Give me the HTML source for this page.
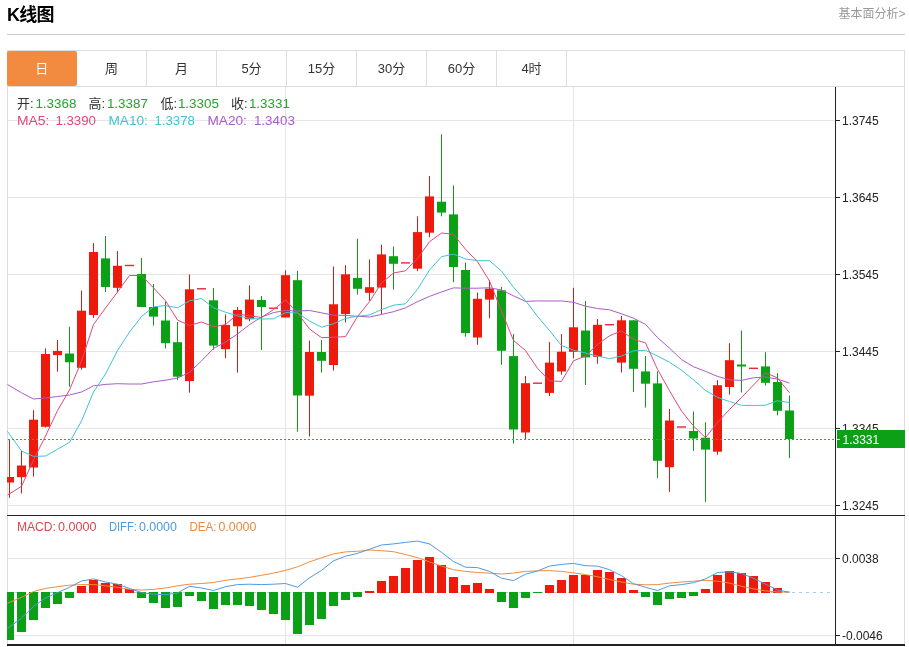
<!DOCTYPE html>
<html lang="zh"><head><meta charset="utf-8"><title>K线图</title>
<style>
html,body{margin:0;padding:0;background:#fff;}
body{width:909px;height:647px;position:relative;overflow:hidden;font-family:"Liberation Sans","Noto Sans CJK SC",sans-serif;color:#333;}
.title{position:absolute;left:7px;top:2.5px;font-size:18px;letter-spacing:-0.8px;font-weight:bold;color:#000;line-height:24px;white-space:nowrap;}
.more{position:absolute;right:3.5px;top:5.5px;font-size:12px;color:#999;line-height:17px;white-space:nowrap;}
.hr{position:absolute;left:7px;top:34px;width:898px;height:1px;background:#ccc;}
.box{position:absolute;left:7px;top:50px;width:896px;height:596px;border:1px solid #ddd;border-bottom:none;box-sizing:content-box;}
.tabs{position:absolute;left:7px;top:51px;height:35px;width:898px;border-bottom:1px solid #ddd;}
.tab{position:absolute;top:0;height:35px;width:69px;border-right:1px solid #ddd;text-align:center;line-height:35px;font-size:13px;color:#333;}
.tab.on{background:#f28a3f;border-radius:2px;color:#fff;width:69.5px;border-right:none;}
svg{position:absolute;left:0;top:0;}
svg text{font-family:"Liberation Sans","Noto Sans CJK SC",sans-serif;}
</style></head><body>
<div class="title">K线图</div>
<div class="more">基本面分析&gt;</div>
<div class="hr"></div>
<div class="box"></div>
<div class="tabs">
<div class="tab on" style="left:0px">日</div>
<div class="tab" style="left:70px">周</div>
<div class="tab" style="left:140px">月</div>
<div class="tab" style="left:210px">5分</div>
<div class="tab" style="left:280px">15分</div>
<div class="tab" style="left:350px">30分</div>
<div class="tab" style="left:420px">60分</div>
<div class="tab" style="left:490px">4时</div>
</div>
<svg width="909" height="647" viewBox="0 0 909 647">
<g stroke="#e6e6e6" stroke-width="1" shape-rendering="crispEdges">
<line x1="8" x2="835" y1="120.5" y2="120.5"/>
<line x1="8" x2="835" y1="197.5" y2="197.5"/>
<line x1="8" x2="835" y1="274.5" y2="274.5"/>
<line x1="8" x2="835" y1="351.5" y2="351.5"/>
<line x1="8" x2="835" y1="428.5" y2="428.5"/>
<line x1="8" x2="835" y1="505.5" y2="505.5"/>
<line x1="8" x2="835" y1="558.5" y2="558.5"/>
<line x1="8" x2="835" y1="635.5" y2="635.5"/>
</g>
<g stroke="#dfe4ea" stroke-width="1" shape-rendering="crispEdges">
<line x1="285.5" x2="285.5" y1="87" y2="645"/>
<line x1="573.5" x2="573.5" y1="87" y2="645"/>
</g>
<line x1="8" x2="834" y1="592.5" y2="592.5" stroke="#a8cdea" stroke-width="1" stroke-dasharray="3,4"/>
<defs><clipPath id="cp"><rect x="7" y="87" width="828" height="558"/></clipPath></defs>
<g clip-path="url(#cp)">
<g shape-rendering="crispEdges">
<rect x="5" y="592" width="9" height="47.7" fill="#0ca016"/>
<rect x="17" y="592" width="9" height="40.2" fill="#0ca016"/>
<rect x="29" y="592" width="9" height="27.5" fill="#0ca016"/>
<rect x="41" y="592" width="9" height="15.9" fill="#0ca016"/>
<rect x="53" y="592" width="9" height="11.9" fill="#0ca016"/>
<rect x="65" y="592" width="9" height="5.9" fill="#0ca016"/>
<rect x="77" y="585.8" width="9" height="6.7" fill="#ee1a0c"/>
<rect x="89" y="579.5" width="9" height="13" fill="#ee1a0c"/>
<rect x="101" y="583.1" width="9" height="9.4" fill="#ee1a0c"/>
<rect x="113" y="583.5" width="9" height="9" fill="#ee1a0c"/>
<rect x="125" y="589.4" width="9" height="3.1" fill="#ee1a0c"/>
<rect x="137" y="592" width="9" height="5.9" fill="#0ca016"/>
<rect x="149" y="592" width="9" height="10.8" fill="#0ca016"/>
<rect x="161" y="592" width="9" height="15.5" fill="#0ca016"/>
<rect x="173" y="592" width="9" height="14.7" fill="#0ca016"/>
<rect x="185" y="592" width="9" height="4.4" fill="#0ca016"/>
<rect x="197" y="592" width="9" height="9.1" fill="#0ca016"/>
<rect x="209" y="592" width="9" height="16.5" fill="#0ca016"/>
<rect x="221" y="592" width="9" height="13.3" fill="#0ca016"/>
<rect x="233" y="592" width="9" height="12.7" fill="#0ca016"/>
<rect x="245" y="592" width="9" height="13.8" fill="#0ca016"/>
<rect x="257" y="592" width="9" height="18.2" fill="#0ca016"/>
<rect x="269" y="592" width="9" height="22.4" fill="#0ca016"/>
<rect x="281" y="592" width="9" height="27.7" fill="#0ca016"/>
<rect x="293" y="592" width="9" height="41.9" fill="#0ca016"/>
<rect x="305" y="592" width="9" height="32.8" fill="#0ca016"/>
<rect x="317" y="592" width="9" height="26.7" fill="#0ca016"/>
<rect x="329" y="592" width="9" height="14.4" fill="#0ca016"/>
<rect x="341" y="592" width="9" height="7.6" fill="#0ca016"/>
<rect x="353" y="592" width="9" height="4.9" fill="#0ca016"/>
<rect x="365" y="590.5" width="9" height="2" fill="#ee1a0c"/>
<rect x="377" y="581" width="9" height="11.5" fill="#ee1a0c"/>
<rect x="389" y="576.1" width="9" height="16.4" fill="#ee1a0c"/>
<rect x="401" y="568.3" width="9" height="24.2" fill="#ee1a0c"/>
<rect x="413" y="559.8" width="9" height="32.7" fill="#ee1a0c"/>
<rect x="425" y="557" width="9" height="35.5" fill="#ee1a0c"/>
<rect x="437" y="564.7" width="9" height="27.8" fill="#ee1a0c"/>
<rect x="449" y="576.7" width="9" height="15.8" fill="#ee1a0c"/>
<rect x="461" y="584.6" width="9" height="7.9" fill="#ee1a0c"/>
<rect x="473" y="582.5" width="9" height="10" fill="#ee1a0c"/>
<rect x="485" y="588.8" width="9" height="3.7" fill="#ee1a0c"/>
<rect x="497" y="592" width="9" height="9.7" fill="#0ca016"/>
<rect x="509" y="592" width="9" height="15.9" fill="#0ca016"/>
<rect x="521" y="592" width="9" height="5.5" fill="#0ca016"/>
<rect x="533" y="592" width="9" height="1" fill="#0ca016"/>
<rect x="545" y="585.2" width="9" height="7.3" fill="#ee1a0c"/>
<rect x="557" y="579.5" width="9" height="13" fill="#ee1a0c"/>
<rect x="569" y="574.6" width="9" height="17.9" fill="#ee1a0c"/>
<rect x="581" y="574.6" width="9" height="17.9" fill="#ee1a0c"/>
<rect x="593" y="570" width="9" height="22.5" fill="#ee1a0c"/>
<rect x="605" y="571.9" width="9" height="20.6" fill="#ee1a0c"/>
<rect x="617" y="577.8" width="9" height="14.7" fill="#ee1a0c"/>
<rect x="629" y="589.9" width="9" height="2.6" fill="#ee1a0c"/>
<rect x="641" y="592" width="9" height="4.9" fill="#0ca016"/>
<rect x="653" y="592" width="9" height="13.3" fill="#0ca016"/>
<rect x="665" y="592" width="9" height="7" fill="#0ca016"/>
<rect x="677" y="592" width="9" height="6.3" fill="#0ca016"/>
<rect x="689" y="592" width="9" height="3.8" fill="#0ca016"/>
<rect x="701" y="588.8" width="9" height="3.7" fill="#ee1a0c"/>
<rect x="713" y="575.3" width="9" height="17.2" fill="#ee1a0c"/>
<rect x="725" y="571.4" width="9" height="21.1" fill="#ee1a0c"/>
<rect x="737" y="572.9" width="9" height="19.6" fill="#ee1a0c"/>
<rect x="749" y="576.1" width="9" height="16.4" fill="#ee1a0c"/>
<rect x="761" y="581.6" width="9" height="10.9" fill="#ee1a0c"/>
<rect x="773" y="588.4" width="9" height="4.1" fill="#ee1a0c"/>
</g>
<g>
<line x1="9.5" x2="9.5" y1="439" y2="497.8" stroke="#d41c10" stroke-width="1"/>
<rect x="5" y="477" width="9" height="5.5" fill="#ee1a0c"/>
<line x1="21.5" x2="21.5" y1="451" y2="493.4" stroke="#d41c10" stroke-width="1"/>
<rect x="17" y="465.5" width="9" height="11.7" fill="#ee1a0c"/>
<line x1="33.5" x2="33.5" y1="410.2" y2="476.6" stroke="#d41c10" stroke-width="1"/>
<rect x="29" y="419.7" width="9" height="47.8" fill="#ee1a0c"/>
<line x1="45.5" x2="45.5" y1="348.4" y2="427.5" stroke="#d41c10" stroke-width="1"/>
<rect x="41" y="354" width="9" height="72.8" fill="#ee1a0c"/>
<line x1="57.5" x2="57.5" y1="340" y2="371.7" stroke="#d41c10" stroke-width="1"/>
<rect x="53" y="350.9" width="9" height="4.2" fill="#ee1a0c"/>
<line x1="69.5" x2="69.5" y1="326.7" y2="386.7" stroke="#109a1a" stroke-width="1"/>
<rect x="65" y="353.5" width="9" height="8.8" fill="#0ca016"/>
<line x1="81.5" x2="81.5" y1="290.5" y2="369.6" stroke="#d41c10" stroke-width="1"/>
<rect x="77" y="310.7" width="9" height="57.1" fill="#ee1a0c"/>
<line x1="93.5" x2="93.5" y1="243" y2="318" stroke="#d41c10" stroke-width="1"/>
<rect x="89" y="252" width="9" height="63" fill="#ee1a0c"/>
<line x1="105.5" x2="105.5" y1="236" y2="292" stroke="#109a1a" stroke-width="1"/>
<rect x="101" y="258.4" width="9" height="28.6" fill="#0ca016"/>
<line x1="117.5" x2="117.5" y1="251" y2="292.6" stroke="#d41c10" stroke-width="1"/>
<rect x="113" y="265.8" width="9" height="22" fill="#ee1a0c"/>
<rect x="125" y="264.8" width="9" height="1.4" fill="#e0283a"/>
<line x1="141.5" x2="141.5" y1="258" y2="307" stroke="#109a1a" stroke-width="1"/>
<rect x="137" y="274" width="9" height="33" fill="#0ca016"/>
<line x1="153.5" x2="153.5" y1="284" y2="325.6" stroke="#109a1a" stroke-width="1"/>
<rect x="149" y="307" width="9" height="9.6" fill="#0ca016"/>
<line x1="165.5" x2="165.5" y1="301.7" y2="348.4" stroke="#109a1a" stroke-width="1"/>
<rect x="161" y="320.5" width="9" height="22.7" fill="#0ca016"/>
<line x1="177.5" x2="177.5" y1="322" y2="380.2" stroke="#109a1a" stroke-width="1"/>
<rect x="173" y="342.2" width="9" height="34.5" fill="#0ca016"/>
<line x1="189.5" x2="189.5" y1="274.4" y2="392.6" stroke="#d41c10" stroke-width="1"/>
<rect x="185" y="289.3" width="9" height="91.8" fill="#ee1a0c"/>
<rect x="197" y="288.1" width="9" height="1.4" fill="#e0283a"/>
<line x1="213.5" x2="213.5" y1="288" y2="349.8" stroke="#109a1a" stroke-width="1"/>
<rect x="209" y="300.3" width="9" height="45.3" fill="#0ca016"/>
<line x1="225.5" x2="225.5" y1="314.4" y2="358.2" stroke="#d41c10" stroke-width="1"/>
<rect x="221" y="325" width="9" height="24.2" fill="#ee1a0c"/>
<line x1="237.5" x2="237.5" y1="307" y2="372.6" stroke="#d41c10" stroke-width="1"/>
<rect x="233" y="310" width="9" height="16.3" fill="#ee1a0c"/>
<line x1="249.5" x2="249.5" y1="285.3" y2="321.4" stroke="#d41c10" stroke-width="1"/>
<rect x="245" y="299.6" width="9" height="19.7" fill="#ee1a0c"/>
<line x1="261.5" x2="261.5" y1="296" y2="350" stroke="#109a1a" stroke-width="1"/>
<rect x="257" y="300" width="9" height="7" fill="#0ca016"/>
<rect x="269" y="307.5" width="9" height="1.4" fill="#e0283a"/>
<line x1="285.5" x2="285.5" y1="270.3" y2="317.5" stroke="#d41c10" stroke-width="1"/>
<rect x="281" y="275.2" width="9" height="42.3" fill="#ee1a0c"/>
<line x1="297.5" x2="297.5" y1="270.8" y2="431.7" stroke="#109a1a" stroke-width="1"/>
<rect x="293" y="280.2" width="9" height="115.3" fill="#0ca016"/>
<line x1="309.5" x2="309.5" y1="340.5" y2="436.5" stroke="#d41c10" stroke-width="1"/>
<rect x="305" y="352" width="9" height="43.7" fill="#ee1a0c"/>
<line x1="321.5" x2="321.5" y1="340" y2="372.6" stroke="#109a1a" stroke-width="1"/>
<rect x="317" y="352" width="9" height="8.8" fill="#0ca016"/>
<line x1="333.5" x2="333.5" y1="266.4" y2="370.5" stroke="#d41c10" stroke-width="1"/>
<rect x="329" y="304.3" width="9" height="60.7" fill="#ee1a0c"/>
<line x1="345.5" x2="345.5" y1="265.2" y2="322.4" stroke="#d41c10" stroke-width="1"/>
<rect x="341" y="274.3" width="9" height="39.7" fill="#ee1a0c"/>
<line x1="357.5" x2="357.5" y1="238.7" y2="294.6" stroke="#109a1a" stroke-width="1"/>
<rect x="353" y="277.9" width="9" height="10.9" fill="#0ca016"/>
<line x1="369.5" x2="369.5" y1="259.4" y2="300.8" stroke="#d41c10" stroke-width="1"/>
<rect x="365" y="287.2" width="9" height="5.6" fill="#ee1a0c"/>
<line x1="381.5" x2="381.5" y1="244.7" y2="314" stroke="#d41c10" stroke-width="1"/>
<rect x="377" y="254.4" width="9" height="33.2" fill="#ee1a0c"/>
<line x1="393.5" x2="393.5" y1="246.5" y2="289.7" stroke="#109a1a" stroke-width="1"/>
<rect x="389" y="256.2" width="9" height="7.6" fill="#0ca016"/>
<rect x="401" y="262.2" width="9" height="1.4" fill="#e0283a"/>
<line x1="417.5" x2="417.5" y1="216.3" y2="271.2" stroke="#d41c10" stroke-width="1"/>
<rect x="413" y="232.1" width="9" height="36.6" fill="#ee1a0c"/>
<line x1="429.5" x2="429.5" y1="176" y2="237.2" stroke="#d41c10" stroke-width="1"/>
<rect x="425" y="196.4" width="9" height="36.3" fill="#ee1a0c"/>
<line x1="441.5" x2="441.5" y1="134.2" y2="216.3" stroke="#109a1a" stroke-width="1"/>
<rect x="437" y="201.7" width="9" height="10.9" fill="#0ca016"/>
<line x1="453.5" x2="453.5" y1="185.4" y2="282.2" stroke="#109a1a" stroke-width="1"/>
<rect x="449" y="214.4" width="9" height="52.6" fill="#0ca016"/>
<line x1="465.5" x2="465.5" y1="262.5" y2="336.7" stroke="#109a1a" stroke-width="1"/>
<rect x="461" y="270" width="9" height="63.1" fill="#0ca016"/>
<line x1="477.5" x2="477.5" y1="292.6" y2="344.8" stroke="#d41c10" stroke-width="1"/>
<rect x="473" y="298.8" width="9" height="38.7" fill="#ee1a0c"/>
<line x1="489.5" x2="489.5" y1="280.3" y2="318.1" stroke="#d41c10" stroke-width="1"/>
<rect x="485" y="288.7" width="9" height="10.9" fill="#ee1a0c"/>
<line x1="501.5" x2="501.5" y1="286.8" y2="364.8" stroke="#109a1a" stroke-width="1"/>
<rect x="497" y="290.3" width="9" height="60.5" fill="#0ca016"/>
<line x1="513.5" x2="513.5" y1="334" y2="443.6" stroke="#109a1a" stroke-width="1"/>
<rect x="509" y="356.1" width="9" height="73.4" fill="#0ca016"/>
<line x1="525.5" x2="525.5" y1="376" y2="439.6" stroke="#d41c10" stroke-width="1"/>
<rect x="521" y="383.2" width="9" height="49.3" fill="#ee1a0c"/>
<rect x="533" y="382.5" width="9" height="1.4" fill="#e0283a"/>
<line x1="549.5" x2="549.5" y1="341.9" y2="396" stroke="#d41c10" stroke-width="1"/>
<rect x="545" y="362.6" width="9" height="30.3" fill="#ee1a0c"/>
<line x1="561.5" x2="561.5" y1="334" y2="374.7" stroke="#d41c10" stroke-width="1"/>
<rect x="557" y="351.7" width="9" height="19.8" fill="#ee1a0c"/>
<line x1="573.5" x2="573.5" y1="287.8" y2="358.2" stroke="#d41c10" stroke-width="1"/>
<rect x="569" y="327.3" width="9" height="24.5" fill="#ee1a0c"/>
<line x1="585.5" x2="585.5" y1="300.9" y2="385" stroke="#109a1a" stroke-width="1"/>
<rect x="581" y="330.5" width="9" height="26.9" fill="#0ca016"/>
<line x1="597.5" x2="597.5" y1="319" y2="363.7" stroke="#d41c10" stroke-width="1"/>
<rect x="593" y="324.8" width="9" height="32" fill="#ee1a0c"/>
<rect x="605" y="324" width="9" height="1.4" fill="#e0283a"/>
<line x1="621.5" x2="621.5" y1="316" y2="372.5" stroke="#d41c10" stroke-width="1"/>
<rect x="617" y="320.3" width="9" height="42.3" fill="#ee1a0c"/>
<line x1="633.5" x2="633.5" y1="320.3" y2="391.9" stroke="#109a1a" stroke-width="1"/>
<rect x="629" y="320.3" width="9" height="48.5" fill="#0ca016"/>
<line x1="645.5" x2="645.5" y1="356" y2="407.6" stroke="#109a1a" stroke-width="1"/>
<rect x="641" y="371.4" width="9" height="12.3" fill="#0ca016"/>
<line x1="657.5" x2="657.5" y1="371.4" y2="478.1" stroke="#109a1a" stroke-width="1"/>
<rect x="653" y="383.4" width="9" height="77.4" fill="#0ca016"/>
<line x1="669.5" x2="669.5" y1="409" y2="491.9" stroke="#d41c10" stroke-width="1"/>
<rect x="665" y="420.5" width="9" height="46.7" fill="#ee1a0c"/>
<rect x="677" y="426.3" width="9" height="1.4" fill="#e0283a"/>
<line x1="693.5" x2="693.5" y1="411.5" y2="450.8" stroke="#109a1a" stroke-width="1"/>
<rect x="689" y="431" width="9" height="7.5" fill="#0ca016"/>
<line x1="705.5" x2="705.5" y1="422.3" y2="501.9" stroke="#109a1a" stroke-width="1"/>
<rect x="701" y="437.7" width="9" height="11.9" fill="#0ca016"/>
<line x1="717.5" x2="717.5" y1="380.2" y2="454.8" stroke="#d41c10" stroke-width="1"/>
<rect x="713" y="385.2" width="9" height="66.5" fill="#ee1a0c"/>
<line x1="729.5" x2="729.5" y1="343.2" y2="394.7" stroke="#d41c10" stroke-width="1"/>
<rect x="725" y="360.2" width="9" height="26.8" fill="#ee1a0c"/>
<line x1="741.5" x2="741.5" y1="330.5" y2="392.5" stroke="#109a1a" stroke-width="1"/>
<rect x="737" y="364.5" width="9" height="2" fill="#0ca016"/>
<rect x="749" y="367.6" width="9" height="1.4" fill="#e0283a"/>
<line x1="765.5" x2="765.5" y1="352.3" y2="385.5" stroke="#109a1a" stroke-width="1"/>
<rect x="761" y="366.4" width="9" height="16.4" fill="#0ca016"/>
<line x1="777.5" x2="777.5" y1="373" y2="415.4" stroke="#109a1a" stroke-width="1"/>
<rect x="773" y="382" width="9" height="28.8" fill="#0ca016"/>
<line x1="789.5" x2="789.5" y1="395.5" y2="458.1" stroke="#109a1a" stroke-width="1"/>
<rect x="785" y="410.5" width="9" height="28.5" fill="#0ca016"/>
</g>
<polyline fill="none" stroke="#a95cc9" stroke-width="1.0" stroke-linejoin="round" points="7.5,384.5 21.5,392.8 33.5,399 45.5,398 57.5,396.5 69.5,395 81.5,392 93.5,385.8 105.5,384.4 117.5,383.7 129.5,384 141.5,384 153.5,381.8 165.5,380.2 177.5,378 189.5,372.3 201.5,360.8 213.5,348.5 225.5,342 237.5,334 249.5,324.6 261.5,317 273.5,312.6 285.5,310.5 297.5,311 309.5,310.5 321.5,312.8 333.5,315.2 345.5,315.4 357.5,316.3 369.5,317 381.5,314.5 393.5,311.7 405.5,307.8 417.5,301.7 429.5,296.4 441.5,292 453.5,287.9 465.5,288.2 477.5,288.2 489.5,287.8 501.5,290 513.5,295.8 525.5,301.4 537.5,300.9 549.5,301 561.5,300.9 573.5,302.3 585.5,306.2 597.5,308.5 609.5,309.8 621.5,313.8 633.5,318.2 645.5,324.4 657.5,337.6 669.5,348.1 681.5,359.6 693.5,366.7 705.5,371.4 717.5,376.4 729.5,379.8 741.5,380.4 753.5,377.8 765.5,377 777.5,379.1 789.5,383.1"/>
<polyline fill="none" stroke="#3ec4d6" stroke-width="1.0" stroke-linejoin="round" points="7.5,431.4 21.5,451 33.5,456.4 45.5,456 57.5,449.3 69.5,442.3 81.5,421 93.5,392 105.5,374 117.5,350.5 129.5,332 141.5,316.5 153.5,306.8 165.5,305.5 177.5,307.8 189.5,300.8 201.5,298.5 213.5,307.8 225.5,312.2 237.5,315.8 249.5,318.4 261.5,319 273.5,318.8 285.5,312.6 297.5,313 309.5,321 321.5,327.2 333.5,323.7 345.5,318.4 357.5,316.3 369.5,314.9 381.5,309.6 393.5,305.2 405.5,303.8 417.5,289.3 429.5,270 441.5,256.7 453.5,254.1 465.5,259 477.5,260.7 489.5,260.7 501.5,271 513.5,287.3 525.5,300.5 537.5,316.4 549.5,330.5 561.5,345.5 573.5,350.2 585.5,353 597.5,356 609.5,358.7 621.5,356 633.5,350.8 645.5,350.3 657.5,356 669.5,362.2 681.5,370.2 693.5,379.9 705.5,390.5 717.5,397.4 729.5,401.5 741.5,405.3 753.5,405.5 765.5,405.2 777.5,400.8 789.5,402.5"/>
<polyline fill="none" stroke="#e2487a" stroke-width="1.0" stroke-linejoin="round" points="7.5,495 21.5,486.3 33.5,460 45.5,436 57.5,410.6 69.5,390 81.5,361 93.5,324.5 105.5,308 117.5,292 129.5,275.5 141.5,275.5 153.5,287.8 165.5,300.8 177.5,320 189.5,325.5 201.5,322 213.5,326.7 225.5,324.6 237.5,314 249.5,315.8 261.5,317.5 273.5,309.6 285.5,300 297.5,313 309.5,329 321.5,337.7 333.5,337.2 345.5,336.6 357.5,316.6 369.5,301.7 381.5,283 393.5,273 405.5,270.8 417.5,258.5 429.5,241.7 441.5,233 453.5,234.3 465.5,249.3 477.5,261.7 489.5,281 501.5,311 513.5,340.5 525.5,350.5 537.5,368.3 549.5,380.9 561.5,381.4 573.5,360.8 585.5,356 597.5,344.5 609.5,335.8 621.5,330.9 633.5,339.3 645.5,342.9 657.5,369.3 669.5,390.7 681.5,411 693.5,426 705.5,437.7 717.5,422.5 729.5,409.5 741.5,397.5 753.5,385 765.5,372.6 777.5,377.9 789.5,392.8"/>
<polyline fill="none" stroke="#f08c3c" stroke-width="1.0" stroke-linejoin="round" points="7.5,603.2 21.5,597.3 33.5,591.6 45.5,588.4 57.5,586.7 69.5,585.2 81.5,584.6 93.5,584.6 105.5,585.8 117.5,587.3 129.5,589.4 141.5,590 153.5,589.4 165.5,588 177.5,585.8 189.5,584.2 201.5,583.5 213.5,582.5 225.5,580.3 237.5,578.9 249.5,577.4 261.5,575.3 273.5,573.1 285.5,570.4 297.5,566.8 309.5,561.9 321.5,557.7 333.5,553.9 345.5,551.9 357.5,551.3 369.5,550 381.5,550.7 393.5,551.7 405.5,554.5 417.5,557.7 429.5,561.9 441.5,566.1 453.5,569.7 465.5,571.4 477.5,572.5 489.5,573.1 501.5,574 513.5,573.1 525.5,571.4 537.5,570.8 549.5,570.6 561.5,571.4 573.5,572.9 585.5,574.6 597.5,576.7 609.5,579.5 621.5,582 633.5,584.2 645.5,584.8 657.5,584.6 669.5,583.1 681.5,582 693.5,581.2 705.5,580.3 717.5,581.2 729.5,583.1 741.5,586.3 753.5,588.8 765.5,590.9 777.5,592 789.5,592.2"/>
<polyline fill="none" stroke="#4f9be0" stroke-width="1.0" stroke-linejoin="round" points="7.5,628.6 21.5,618 33.5,606.4 45.5,598 57.5,592.6 69.5,587.3 81.5,581 93.5,578.9 105.5,582 117.5,584.2 129.5,588.4 141.5,592.6 153.5,594.3 165.5,594.7 177.5,593 189.5,586.3 201.5,588 213.5,590.5 225.5,586.7 237.5,584.6 249.5,584.2 261.5,584.6 273.5,584.2 285.5,583.5 297.5,587.3 309.5,577.8 321.5,570.4 333.5,560.8 345.5,556.2 357.5,553.4 369.5,549.2 381.5,545 393.5,543.9 405.5,542.4 417.5,541.1 429.5,543.9 441.5,552.4 453.5,561.5 465.5,567.2 477.5,567.6 489.5,571.4 501.5,578.2 513.5,580.6 525.5,574.2 537.5,571 549.5,566.1 561.5,564.4 573.5,563.4 585.5,565.7 597.5,566.1 609.5,569.7 621.5,575.7 633.5,583.7 645.5,587.3 657.5,590.5 669.5,585.8 681.5,584.6 693.5,582.7 705.5,578.9 717.5,572.5 729.5,571.8 741.5,573.5 753.5,578.2 765.5,584.2 777.5,590 789.5,592.2"/>
</g>
<line x1="8" x2="835" y1="439.5" y2="439.5" stroke="#35a840" stroke-width="1" stroke-dasharray="2,2"/>
<g stroke="#222" shape-rendering="crispEdges">
<line x1="835.5" x2="835.5" y1="87" y2="646" stroke-width="1"/>
<line x1="7" x2="905" y1="515.5" y2="515.5" stroke-width="1"/>
<line x1="7" x2="905" y1="645" y2="645" stroke-width="1.6"/>
<line x1="836" x2="840" y1="120.5" y2="120.5" stroke-width="1"/>
<line x1="836" x2="840" y1="197.5" y2="197.5" stroke-width="1"/>
<line x1="836" x2="840" y1="274.5" y2="274.5" stroke-width="1"/>
<line x1="836" x2="840" y1="351.5" y2="351.5" stroke-width="1"/>
<line x1="836" x2="840" y1="428.5" y2="428.5" stroke-width="1"/>
<line x1="836" x2="840" y1="505.5" y2="505.5" stroke-width="1"/>
<line x1="836" x2="840" y1="558.5" y2="558.5" stroke-width="1"/>
<line x1="836" x2="840" y1="635.5" y2="635.5" stroke-width="1"/>
</g>
<g font-size="12" fill="#222">
<text x="842" y="124.8">1.3745</text>
<text x="842" y="201.8">1.3645</text>
<text x="842" y="278.8">1.3545</text>
<text x="842" y="355.8">1.3445</text>
<text x="842" y="432.8">1.3345</text>
<text x="842" y="509.8">1.3245</text>
<text x="842" y="562.8">0.0038</text>
<text x="842" y="639.8">-0.0046</text>
</g>
<rect x="837" y="430" width="68" height="18" fill="#0ca016"/>
<line x1="837" x2="840" y1="439.5" y2="439.5" stroke="#d8f0d8" stroke-width="1"/>
<text x="842.5" y="443.6" font-size="12" fill="#fff">1.3331</text>
<text x="16.9" y="108" font-size="13" fill="#333">开:</text>
<text x="35.4" y="108" font-size="13" fill="#22a52e" textLength="41" lengthAdjust="spacingAndGlyphs">1.3368</text>
<text x="88.4" y="108" font-size="13" fill="#333">高:</text>
<text x="106.9" y="108" font-size="13" fill="#22a52e" textLength="41" lengthAdjust="spacingAndGlyphs">1.3387</text>
<text x="160.4" y="108" font-size="13" fill="#333">低:</text>
<text x="177.9" y="108" font-size="13" fill="#22a52e" textLength="41" lengthAdjust="spacingAndGlyphs">1.3305</text>
<text x="230.9" y="108" font-size="13" fill="#333">收:</text>
<text x="248.9" y="108" font-size="13" fill="#22a52e" textLength="41" lengthAdjust="spacingAndGlyphs">1.3331</text>
<text x="16.9" y="125.2" font-size="13" fill="#e2487a" textLength="32.5" lengthAdjust="spacingAndGlyphs">MA5:</text>
<text x="55.4" y="125.2" font-size="13" fill="#e2487a" textLength="40.5" lengthAdjust="spacingAndGlyphs">1.3390</text>
<text x="108.4" y="125.2" font-size="13" fill="#3ec4d6" textLength="39.5" lengthAdjust="spacingAndGlyphs">MA10:</text>
<text x="154.4" y="125.2" font-size="13" fill="#3ec4d6" textLength="40.5" lengthAdjust="spacingAndGlyphs">1.3378</text>
<text x="207.4" y="125.2" font-size="13" fill="#a95cc9" textLength="39.5" lengthAdjust="spacingAndGlyphs">MA20:</text>
<text x="253.9" y="125.2" font-size="13" fill="#a95cc9" textLength="41" lengthAdjust="spacingAndGlyphs">1.3403</text>
<text x="16.9" y="531" font-size="12.5" fill="#dc4650" textLength="39" lengthAdjust="spacingAndGlyphs">MACD:</text>
<text x="57.9" y="531" font-size="12.5" fill="#dc4650" textLength="38.5" lengthAdjust="spacingAndGlyphs">0.0000</text>
<text x="108.9" y="531" font-size="12.5" fill="#4f9be0" textLength="28" lengthAdjust="spacingAndGlyphs">DIFF:</text>
<text x="138.9" y="531" font-size="12.5" fill="#4f9be0" textLength="38" lengthAdjust="spacingAndGlyphs">0.0000</text>
<text x="189.4" y="531" font-size="12.5" fill="#e88a44" textLength="27" lengthAdjust="spacingAndGlyphs">DEA:</text>
<text x="218.4" y="531" font-size="12.5" fill="#e88a44" textLength="38" lengthAdjust="spacingAndGlyphs">0.0000</text>
</svg></body></html>
